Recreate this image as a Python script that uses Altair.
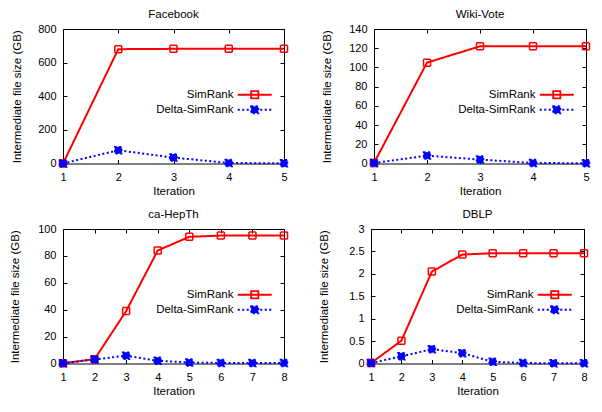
import altair as alt
import pandas as pd

FONT = "Liberation Sans"
RED = "#ff0000"
BLUE = "#0000ff"
SERIES = ["SimRank", "Delta-SimRank"]

# ---- data ----
fb_iter = [1, 2, 3, 4, 5]
fb_sim = [0, 680, 682, 682, 682]
fb_delta = [0, 79, 35, 3, 1]
fb_yticks = [0, 200, 400, 600, 800]

wv_iter = [1, 2, 3, 4, 5]
wv_sim = [0.5, 105, 122, 122, 122]
wv_delta = [0.5, 8.2, 4.1, 0.5, 0.3]
wv_yticks = [0, 20, 40, 60, 80, 100, 120, 140]

hp_iter = [1, 2, 3, 4, 5, 6, 7, 8]
hp_sim = [0.2, 3.2, 39, 84, 94.2, 95.1, 95.1, 95.2]
hp_delta = [0.2, 3, 5.8, 2, 0.7, 0.4, 0.3, 0.3]
hp_yticks = [0, 20, 40, 60, 80, 100]

db_iter = [1, 2, 3, 4, 5, 6, 7, 8]
db_sim = [0.01, 0.51, 2.05, 2.43, 2.46, 2.46, 2.46, 2.46]
db_delta = [0.01, 0.16, 0.32, 0.23, 0.04, 0.01, 0.005, 0.005]
db_yticks = [0, 0.5, 1, 1.5, 2, 2.5, 3]

# legend key: a line sample with a square marker in the middle
SYMBOL_PATH = "M-4.25,0H4.25M-0.9,-0.9H0.9V0.9H-0.9Z"

IND = dict(stroke="independent", fill="independent", strokeDash="independent")


def panel(title, iters, sim, delta, yticks, yfmt, W, H, title_x):
    n = len(iters)
    df = pd.DataFrame({
        "Iteration": iters + iters,
        "value": sim + delta,
        "series": ["SimRank"] * n + ["Delta-SimRank"] * n,
    })
    xscale = alt.Scale(domain=[iters[0], iters[-1]], nice=False, zero=False)
    yscale = alt.Scale(domain=[yticks[0], yticks[-1]], nice=False, zero=False)
    xaxis = alt.Axis(values=iters, format="d", title="Iteration",
                     grid=True, gridDash=[4, H - 8], gridColor="black",
                     gridOpacity=1, gridWidth=1, ticks=False, tickSize=0,
                     domain=False, labelPadding=8, labelFlush=False,
                     labelFontSize=11, labelFont=FONT, labelColor="black",
                     titleFontSize=11.5, titleFont=FONT, titleColor="black",
                     titleFontWeight="normal", titleY=27.5, titleBaseline="middle")
    yaxis = alt.Axis(values=yticks, format=yfmt,
                     title="Intermediate file size (GB)",
                     grid=True, gridDash=[4, W - 8], gridColor="black",
                     gridOpacity=1, gridWidth=1, ticks=False, tickSize=0,
                     domain=False, labelPadding=7, labelFlush=False,
                     labelFontSize=11, labelFont=FONT, labelColor="black",
                     titleFontSize=11.5, titleFont=FONT, titleColor="black",
                     titleFontWeight="normal", titleX=title_x,
                     titleBaseline="middle")
    x = alt.X("Iteration:Q", scale=xscale, axis=xaxis)
    y = alt.Y("value:Q", scale=yscale, axis=yaxis)
    stroke_scale = alt.Scale(domain=SERIES, range=[RED, BLUE])
    dash_scale = alt.Scale(domain=SERIES, range=[[1, 0], [2, 2.5]])
    fill_scale = alt.Scale(domain=SERIES, range=["transparent", BLUE])
    leg = alt.Legend(title=None, orient="none", legendX=W - 35, legendY=60,
                     symbolType=SYMBOL_PATH, symbolSize=64,
                     symbolStrokeWidth=1.8,
                     labelAlign="right", labelOffset={"expr": "-27"},
                     labelFontSize=11.5,
                     labelFont=FONT, labelColor="black",
                     rowPadding=0, padding=0, offset=0)
    line = alt.Chart(df).mark_line(strokeWidth=2, clip=False).encode(
        x=x, y=y,
        stroke=alt.Stroke("series:N", scale=stroke_scale, legend=leg),
        strokeDash=alt.StrokeDash("series:N", scale=dash_scale, legend=leg),
    )
    pts = alt.Chart(df).mark_point(shape="square", size=49, strokeWidth=1.5,
                                   opacity=1, clip=False).encode(
        x=x, y=y,
        stroke=alt.Stroke("series:N", scale=stroke_scale, legend=leg),
        fill=alt.Fill("series:N", scale=fill_scale, legend=leg),
        strokeDash=alt.StrokeDash("series:N", scale=dash_scale, legend=leg),
    )
    return alt.layer(line, pts).properties(
        width=W, height=H,
        title=alt.Title(title, fontSize=11.5, fontWeight="normal", font=FONT,
                        color="black", offset=3, anchor="middle", frame="group"),
    )


p1 = panel("Facebook", fb_iter, fb_sim, fb_delta, fb_yticks, "d", 221, 134.5, -46)
p2 = panel("Wiki-Vote", wv_iter, wv_sim, wv_delta, wv_yticks, "d", 212, 134.5, -47)
p3 = panel("ca-HepTh", hp_iter, hp_sim, hp_delta, hp_yticks, "d", 221, 134.5, -48)
p4 = panel("DBLP", db_iter, db_sim, db_delta, db_yticks, "~g", 213, 134.5, -46.7)

row1 = alt.hconcat(p1, p2, spacing=29).resolve_scale(**IND).resolve_legend(**IND)
row2 = alt.hconcat(p3, p4, spacing=26).resolve_scale(**IND).resolve_legend(**IND)

chart = alt.vconcat(row1, row2, spacing=11).resolve_scale(
    x="independent", y="independent", **IND
).resolve_legend(**IND).properties(
    padding={"left": 0, "top": 0, "right": 0, "bottom": 0}
).configure(font=FONT).configure_view(stroke="black", strokeWidth=1)

chart.save("out.html", embed_options={"renderer": "svg", "actions": False})
